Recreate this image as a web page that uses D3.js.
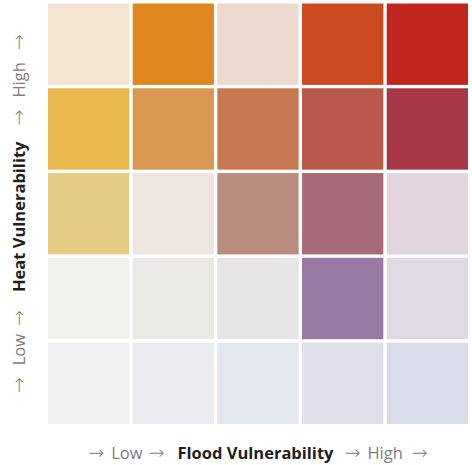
<!DOCTYPE html>
<html>
<head>
<meta charset="utf-8">
<script src="https://cdn.jsdelivr.net/npm/d3@7"></script>
<style>
  html, body { margin: 0; padding: 0; background: #ffffff; }
  svg { display: block; }
</style>
</head>
<body>
<div id="chart"></div>
<script>
// Flood vulnerability classes (x, low → high)
const floodLevels = ["1", "2", "3", "4", "5"];
// Heat vulnerability classes (y, low → high)
const heatLevels = ["1", "2", "3", "4", "5"];
// Cell colours, one row per heat level (low → high), columns by flood level (low → high)
const heatRow1 = ["#eff0f1", "#e9ebee", "#e4e6ee", "#dfe0ec", "#dadcea"];
const heatRow2 = ["#f1f0ec", "#ebe9e6", "#e7e4e5", "#977ba5", "#dfd9e3"];
const heatRow3 = ["#e5cd85", "#ede5e0", "#ba8c7e", "#a66a78", "#e2d5de"];
const heatRow4 = ["#e9b950", "#d99752", "#c87850", "#ba594b", "#a73747"];
const heatRow5 = ["#f2e4d0", "#e0861f", "#edd9ce", "#cb4a20", "#bf2620"];
const xTitle = "Flood Vulnerability";
const yTitle = "Heat Vulnerability";
const lowText = "Low", highText = "High";

const rows = [heatRow1, heatRow2, heatRow3, heatRow4, heatRow5];
const cells = [];
heatLevels.forEach((h, i) => {
  floodLevels.forEach((f, j) => {
    cells.push({ heat: h, flood: f, color: rows[i][j] });
  });
});

const W = 472, H = 465;
const svg = d3.select("#chart").append("svg").attr("width", W).attr("height", H);

const x = d3.scaleBand().domain(floodLevels).range([48, 468]).paddingInner(0.04).paddingOuter(0);
const y = d3.scaleBand().domain(heatLevels.slice().reverse()).range([3.5, 424]).paddingInner(0.04).paddingOuter(0);

svg.append("g").selectAll("rect").data(cells).join("rect")
  .attr("x", d => x(d.flood))
  .attr("y", d => y(d.heat))
  .attr("width", x.bandwidth())
  .attr("height", y.bandwidth())
  .attr("fill", d => d.color);

const font = "'Open Sans', 'Noto Sans', sans-serif";
const arrowFont = "'DejaVu Sans', sans-serif";
const grey = "#7d7d7d", dark = "#1e1e1e";

function label(g, title, gaps) {
  const t = g.append("text")
    .attr("text-anchor", "middle")
    .attr("font-family", font)
    .attr("font-size", 16.5);
  const arrow = (dx) => t.append("tspan").attr("fill", grey).attr("font-family", arrowFont)
      .attr("font-size", 19).attr("font-weight", 300).attr("dx", dx).text("→");
  const word = (s, dx) => t.append("tspan").attr("fill", grey).attr("dx", dx).text(s);
  arrow(0);
  word(lowText, gaps[0]);
  arrow(gaps[1]);
  t.append("tspan").attr("fill", dark).attr("font-weight", "bold").attr("dx", gaps[2]).text(title);
  arrow(gaps[3]);
  word(highText, gaps[4]);
  arrow(gaps[5]);
  return t;
}

const cx = (x.range()[0] + x.range()[1]) / 2;
const cy = (y.range()[0] + y.range()[1]) / 2;

label(svg.append("g").attr("transform", `translate(${cx},459)`), xTitle, [7, 6, 13, 11, 7, 9]);
label(svg.append("g").attr("transform", `translate(25,${cy}) rotate(-90)`), yTitle, [12, 8, 18, 16, 12, 12]);
</script>
</body>
</html>
